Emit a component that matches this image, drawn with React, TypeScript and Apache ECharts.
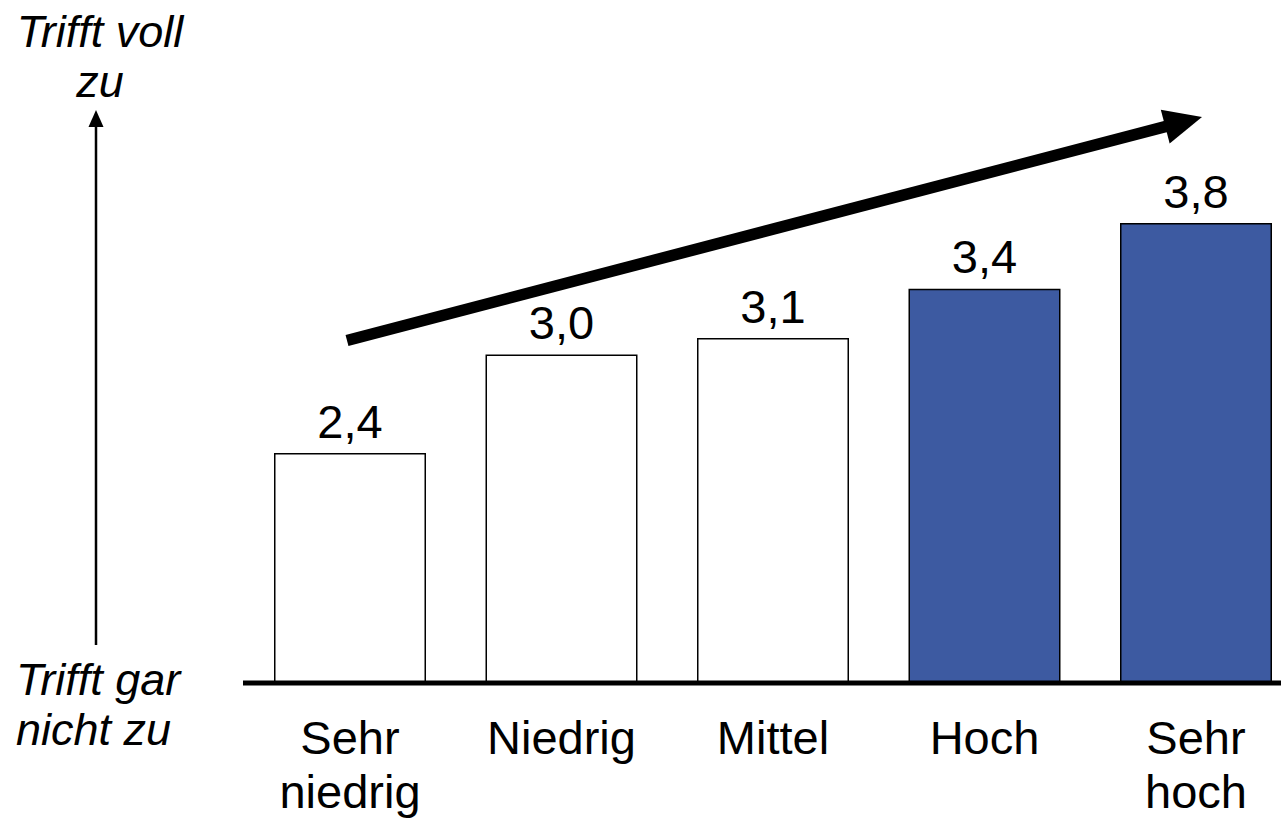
import React, { useEffect, useRef } from "react";
import * as echarts from "echarts";

const categories = ["Sehr\nniedrig", "Niedrig", "Mittel", "Hoch", "Sehr\nhoch"];
const values = [2.4, 3.0, 3.1, 3.4, 3.8];
const barColors = ["#ffffff", "#ffffff", "#ffffff", "#3d5aa1", "#3d5aa1"];
const yMin = 1;
const yMax = 5;
const topLabel = "Trifft voll\nzu";
const bottomLabel = "Trifft gar\nnicht zu";

const FONT = "Liberation Sans, Arial, sans-serif";

export default function App() {
  const ref = useRef<HTMLDivElement>(null);
  useEffect(() => {
    if (!ref.current) return;
    const chart = echarts.init(ref.current, null, { renderer: "svg" });
    // trend arrow geometry (decoration)
    const sx = 347, sy = 340.5, tx = 1202, ty = 117;
    const len = Math.hypot(tx - sx, ty - sy);
    const ux = (tx - sx) / len, uy = (ty - sy) / len;
    const nx = -uy, ny = ux;
    const headLen = 38, headHalf = 17.5;
    const bx = tx - headLen * ux, by = ty - headLen * uy;

    chart.setOption({
      animation: false,
      grid: { left: 350, top: 26, width: 846, bottom: 135, containLabel: false },
      xAxis: {
        type: "category",
        data: categories,
        boundaryGap: false,
        axisLine: { show: false },
        axisTick: { show: false },
        axisLabel: {
          margin: 27,
          fontFamily: FONT,
          fontSize: 47,
          lineHeight: 54,
          color: "#000",
          interval: 0,
        },
      },
      yAxis: {
        type: "value",
        min: yMin,
        max: yMax,
        show: false,
        splitLine: { show: false },
      },
      series: [
        {
          type: "bar",
          data: values.map((v, i) => ({
            value: v,
            itemStyle: { color: barColors[i], borderColor: "#000", borderWidth: 1.5 },
          })),
          barWidth: 152,
          label: {
            show: true,
            position: "top",
            distance: 5,
            fontFamily: FONT,
            fontSize: 47,
            lineHeight: 54,
            color: "#000",
            formatter: (p: any) => Number(p.value).toFixed(1).replace(".", ","),
          },
        },
      ],
      graphic: [
        // x axis baseline
        {
          type: "line",
          shape: { x1: 243, y1: 683, x2: 1281, y2: 683 },
          style: { stroke: "#000", lineWidth: 5 },
          z: 10,
        },
        // left vertical arrow
        {
          type: "line",
          shape: { x1: 96, y1: 645, x2: 96, y2: 124 },
          style: { stroke: "#000", lineWidth: 2.5 },
        },
        {
          type: "polygon",
          shape: { points: [[96, 110], [88.5, 127], [103.5, 127]] },
          style: { fill: "#000" },
        },
        // trend arrow
        {
          type: "line",
          shape: { x1: sx, y1: sy, x2: bx + 2 * ux, y2: by + 2 * uy },
          style: { stroke: "#000", lineWidth: 11.5, lineCap: "butt" },
          z: 10,
        },
        {
          type: "polygon",
          shape: {
            points: [
              [tx, ty],
              [bx + headHalf * nx, by + headHalf * ny],
              [bx - headHalf * nx, by - headHalf * ny],
            ],
          },
          style: { fill: "#000" },
          z: 10,
        },
        // scale labels
        {
          type: "text",
          x: 100,
          y: 6,
          style: {
            text: topLabel,
            fontFamily: FONT,
            fontSize: 45,
            fontStyle: "italic",
            lineHeight: 50,
            fill: "#000",
            align: "center",
            verticalAlign: "top",
          },
        },
        {
          type: "text",
          x: 16,
          y: 654,
          style: {
            text: bottomLabel,
            fontFamily: FONT,
            fontSize: 45,
            fontStyle: "italic",
            lineHeight: 50,
            fill: "#000",
            align: "left",
            verticalAlign: "top",
          },
        },
      ],
    });
    return () => chart.dispose();
  }, []);
  return (
    <div
      ref={ref}
      style={{ position: "fixed", left: 0, top: 0, width: 1281, height: 818, background: "#fff" }}
    />
  );
}
